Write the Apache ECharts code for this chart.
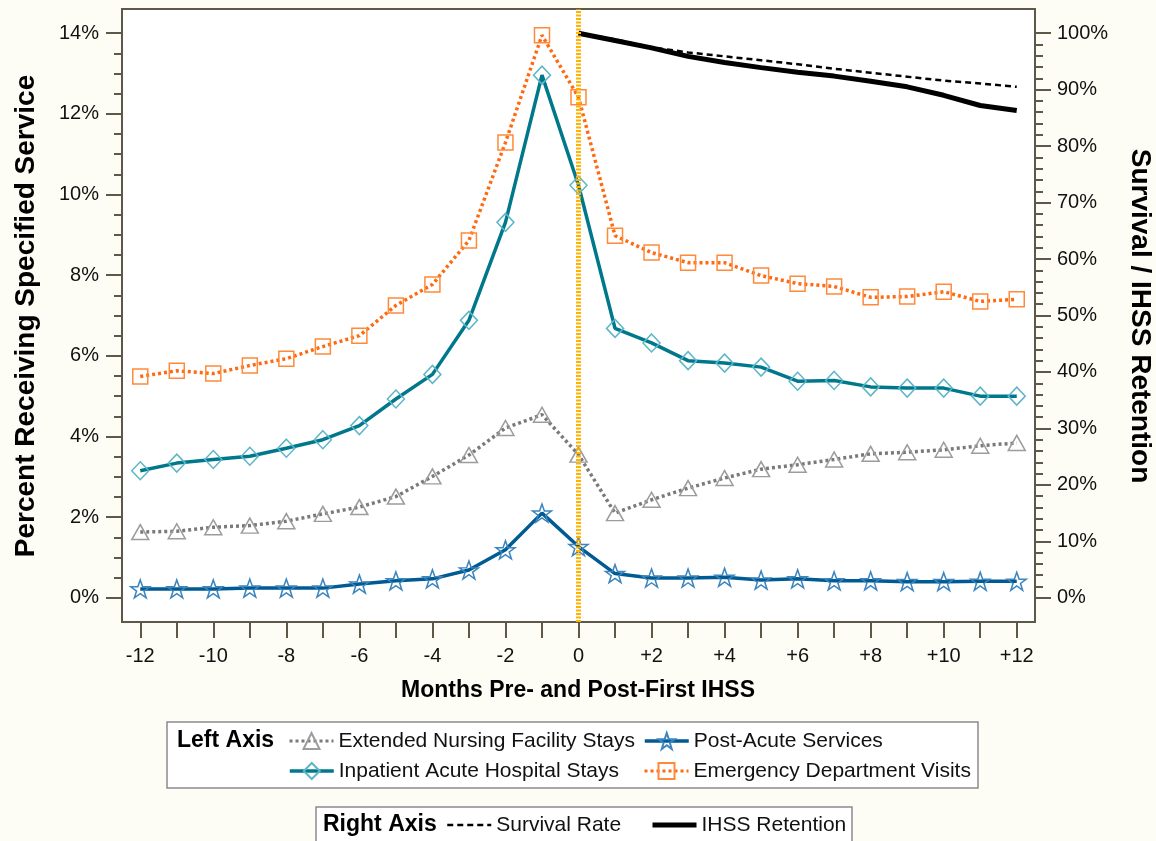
<!DOCTYPE html>
<html><head><meta charset="utf-8">
<script src="https://cdn.jsdelivr.net/npm/echarts@6/dist/echarts.min.js"></script>
<style>html,body{margin:0;padding:0;background:#FDFDF5;}#c{width:1156px;height:841px;}</style>
</head><body><div id="c"></div>
<script>
// ---- data ----
const months = [-12,-11,-10,-9,-8,-7,-6,-5,-4,-3,-2,-1,0,1,2,3,4,5,6,7,8,9,10,11,12];
const postMonths = [0,1,2,3,4,5,6,7,8,9,10,11,12];
const extendedNursing = [1.63,1.65,1.75,1.79,1.90,2.08,2.25,2.51,3.01,3.54,4.21,4.54,3.55,2.10,2.43,2.72,2.97,3.19,3.30,3.43,3.57,3.61,3.67,3.77,3.84];
const postAcute = [0.22,0.22,0.22,0.24,0.24,0.24,0.34,0.42,0.47,0.69,1.19,2.10,1.27,0.60,0.49,0.49,0.51,0.44,0.47,0.42,0.42,0.40,0.40,0.41,0.41];
const inpatient = [3.15,3.34,3.43,3.51,3.71,3.92,4.27,4.93,5.54,6.88,9.31,12.96,10.23,6.68,6.32,5.88,5.82,5.72,5.37,5.39,5.23,5.20,5.20,5.00,5.00];
const emergency = [5.49,5.63,5.56,5.76,5.93,6.23,6.50,7.25,7.77,8.86,11.29,13.95,12.41,8.98,8.56,8.31,8.31,7.99,7.79,7.72,7.45,7.47,7.59,7.35,7.40];
const survival = [100,98.9,97.5,96.6,95.9,95.2,94.5,93.7,93.0,92.3,91.6,91.1,90.5];
const retention = [100,98.7,97.4,95.9,94.8,93.9,93.1,92.4,91.5,90.5,89.0,87.2,86.3];
const xLabelValues = [-12,-10,-8,-6,-4,-2,0,2,4,6,8,10,12];
const leftLabelValues = [0,2,4,6,8,10,12,14];
const leftMinorTicks = [0,0.5,1,1.5,2,2.5,3,3.5,4,4.5,5,5.5,6,6.5,7,7.5,8,8.5,9,9.5,10,10.5,11,11.5,12,12.5,13,13.5,14];
const rightLabelValues = [0,10,20,30,40,50,60,70,80,90,100];
const rightMinorTicks = [0,2,4,6,8,10,12,14,16,18,20,22,24,26,28,30,32,34,36,38,40,42,44,46,48,50,52,54,56,58,60,62,64,66,68,70,72,74,76,78,80,82,84,86,88,90,92,94,96,98,100];
const eventMonth = 0;

// ---- styles ----
const AX = '#5E5848';
const FONT = 'Liberation Sans, Arial, sans-serif';
const STAR = 'path://M12,0 L14.9,8.3 L23.4,8.3 L16.5,13.4 L19.1,21.6 L12,16.5 L4.9,21.6 L7.5,13.4 L0.6,8.3 L9.1,8.3 Z';
const zip = (xs, ys) => xs.map((x, i) => [x, ys[i]]);
const fmtX = v => v > 0 ? '+' + v : String(v);

const chart = echarts.init(document.getElementById('c'), null, {renderer: 'canvas'});

function yAxisBase(pos, min, max) {
  return {type: 'value', position: pos, min: min, max: max, offset: 0,
    splitLine: {show: false},
    axisLine: {show: true, onZero: false, lineStyle: {color: AX, width: 2}}};
}

const legendText = {fontFamily: FONT, fontSize: 21, color: '#111', lineHeight: 22};
function leg(name, left, top, lw) {
  return {data: [name], left: left, top: top, padding: 0, itemGap: 0, itemWidth: 44, itemHeight: 20,
    textStyle: legendText, selectedMode: false, lineStyle: {width: lw}};
}

const option = {
  animation: false,
  backgroundColor: '#FDFDF5',
  textStyle: {fontFamily: FONT},
  grid: {left: 122, top: 9, width: 913, height: 613, show: true, backgroundColor: '#FFFFFF', borderColor: AX, borderWidth: 2, containLabel: false},
  xAxis: [{
    type: 'value', min: -12.5, max: 12.5,
    splitLine: {show: false},
    axisLine: {show: true, onZero: false, lineStyle: {color: AX, width: 2}},
    axisTick: {show: true, length: 16, customValues: months, lineStyle: {color: AX, width: 2}},
    axisLabel: {customValues: xLabelValues, formatter: fmtX, fontSize: 20, color: '#111', margin: 24, fontFamily: FONT}
  }],
  yAxis: [
    Object.assign(yAxisBase('left', -0.6, 14.6), {
      axisTick: {show: true, length: 16, customValues: leftLabelValues, lineStyle: {color: AX, width: 2}},
      axisLabel: {customValues: leftLabelValues, formatter: v => v + '%', fontSize: 20, color: '#111', margin: 23, fontFamily: FONT}
    }),
    Object.assign(yAxisBase('right', -100 * 0.6 / 14, 100 * 14.6 / 14), {
      axisTick: {show: true, length: 16, customValues: rightLabelValues, lineStyle: {color: AX, width: 2}},
      axisLabel: {customValues: rightLabelValues, formatter: v => v + '%', fontSize: 20, color: '#111', margin: 22, fontFamily: FONT}
    }),
    Object.assign(yAxisBase('left', -0.6, 14.6), {
      axisLine: {show: false, onZero: false},
      axisTick: {show: true, length: 8, customValues: leftMinorTicks, lineStyle: {color: AX, width: 2}},
      axisLabel: {show: false}
    }),
    Object.assign(yAxisBase('right', -100 * 0.6 / 14, 100 * 14.6 / 14), {
      axisLine: {show: false, onZero: false},
      axisTick: {show: true, length: 8, customValues: rightMinorTicks, lineStyle: {color: AX, width: 2}},
      axisLabel: {show: false}
    })
  ],
  legend: [
    leg('Extended Nursing Facility Stays', 288, 730, 3),
    leg('Post-Acute Services', 643, 730, 3.5),
    leg('Inpatient Acute Hospital Stays', 288, 760, 3.5),
    leg('Emergency Department Visits', 643, 760, 3),
    leg('Survival Rate', 446, 814, 2.5),
    leg('IHSS Retention', 650, 814, 5)
  ],
  graphic: [
    {type: 'rect', shape: {x: 167, y: 722, width: 811, height: 66}, style: {fill: '#FFFFFF', stroke: '#8A8A8A', lineWidth: 1.5}, z: -1},
    {type: 'rect', shape: {x: 316, y: 807, width: 536, height: 45}, style: {fill: '#FFFFFF', stroke: '#8A8A8A', lineWidth: 1.5}, z: -1},
    {type: 'text', x: 177, y: 741, style: {text: 'Left Axis', font: 'bold 23px ' + FONT, fill: '#000', textAlign: 'left', textVerticalAlign: 'middle'}},
    {type: 'text', x: 323, y: 825, style: {text: 'Right Axis', font: 'bold 23px ' + FONT, fill: '#000', textAlign: 'left', textVerticalAlign: 'middle'}},
    {type: 'text', x: 578, y: 691, style: {text: 'Months Pre- and Post-First IHSS', font: 'bold 23px ' + FONT, fill: '#000', textAlign: 'center', textVerticalAlign: 'middle'}},
    {type: 'text', x: 26, y: 316, rotation: Math.PI / 2, style: {text: 'Percent Receiving Specified Service', font: 'bold 28px ' + FONT, fill: '#000', textAlign: 'center', textVerticalAlign: 'middle'}},
    {type: 'text', x: 1140, y: 316, rotation: -Math.PI / 2, style: {text: 'Survival / IHSS Retention', font: 'bold 28px ' + FONT, fill: '#000', textAlign: 'center', textVerticalAlign: 'middle'}}
  ],
  series: [
    {
      name: 'Extended Nursing Facility Stays', type: 'line', xAxisIndex: 0, yAxisIndex: 0,
      data: zip(months, extendedNursing), symbol: 'triangle', symbolSize: [17, 15],
      lineStyle: {color: '#7A7A7A', width: 3.5, type: [3, 3]},
      itemStyle: {color: 'rgba(255,255,255,0)', borderColor: '#9C9C9C', borderWidth: 1.5}, z: 3
    },
    {
      name: 'Post-Acute Services', type: 'line', xAxisIndex: 0, yAxisIndex: 0,
      data: zip(months, postAcute), symbol: STAR, symbolSize: [19, 18],
      lineStyle: {color: '#005A94', width: 3.5},
      itemStyle: {color: 'rgba(255,255,255,0)', borderColor: '#3C85BE', borderWidth: 1.5}, z: 3
    },
    {
      name: 'Inpatient Acute Hospital Stays', type: 'line', xAxisIndex: 0, yAxisIndex: 0,
      data: zip(months, inpatient), symbol: 'diamond', symbolSize: [17, 18],
      lineStyle: {color: '#00788C', width: 3.5},
      itemStyle: {color: 'rgba(255,255,255,0)', borderColor: '#5CB6C8', borderWidth: 1.5}, z: 3
    },
    {
      name: 'Emergency Department Visits', type: 'line', xAxisIndex: 0, yAxisIndex: 0,
      data: zip(months, emergency), symbol: 'rect', symbolSize: 15,
      lineStyle: {color: '#FF6A10', width: 3.5, type: [3, 3]},
      itemStyle: {color: 'rgba(255,255,255,0)', borderColor: '#FF8A3A', borderWidth: 1.5}, z: 3,
      markLine: {
        silent: true, symbol: ['none', 'none'], label: {show: false}, animation: false,
        lineStyle: {color: '#FFB300', width: 5, type: [2, 1.5]},
        data: [{xAxis: eventMonth}]
      }
    },
    {
      name: 'Survival Rate', type: 'line', xAxisIndex: 0, yAxisIndex: 1,
      data: zip(postMonths, survival), symbol: 'circle', symbolSize: 0.01, showSymbol: false,
      lineStyle: {color: '#000', width: 2.5, type: [6, 4]},
      itemStyle: {color: 'rgba(0,0,0,0)', borderWidth: 0}, z: 4
    },
    {
      name: 'IHSS Retention', type: 'line', xAxisIndex: 0, yAxisIndex: 1,
      data: zip(postMonths, retention), symbol: 'circle', symbolSize: 0.01, showSymbol: false,
      lineStyle: {color: '#000', width: 5},
      itemStyle: {color: 'rgba(0,0,0,0)', borderWidth: 0}, z: 4
    }
  ]
};
chart.setOption(option);
</script></body></html>
